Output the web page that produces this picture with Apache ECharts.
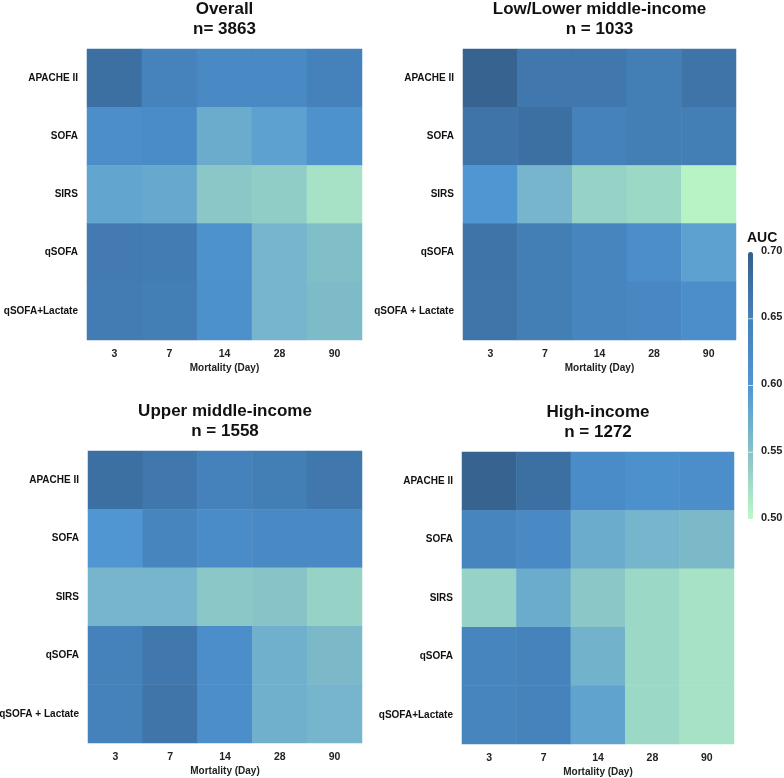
<!DOCTYPE html>
<html><head><meta charset="utf-8">
<script src="https://cdn.jsdelivr.net/npm/echarts@6/dist/echarts.min.js"></script>
<style>html,body{margin:0;padding:0;background:#fff}#c{width:784px;height:778px}</style>
</head><body><div id="c"></div>
<script>
const days = ['3', '7', '14', '28', '90'];
const scoresA = ['APACHE II', 'SOFA', 'SIRS', 'qSOFA', 'qSOFA+Lactate'];
const scoresB = ['APACHE II', 'SOFA', 'SIRS', 'qSOFA', 'qSOFA + Lactate'];
const titles = ['Overall\nn= 3863', 'Low/Lower middle-income\nn = 1033', 'Upper middle-income\nn = 1558', 'High-income\nn = 1272'];
// rows follow scores order, columns follow days
const overall = [
  [0.675, 0.645, 0.630, 0.630, 0.648],
  [0.620, 0.625, 0.575, 0.588, 0.612],
  [0.583, 0.578, 0.545, 0.540, 0.520],
  [0.660, 0.658, 0.612, 0.565, 0.555],
  [0.658, 0.655, 0.615, 0.565, 0.558]
];
const lowIncome = [
  [0.695, 0.665, 0.665, 0.655, 0.670],
  [0.670, 0.675, 0.650, 0.655, 0.655],
  [0.600, 0.565, 0.535, 0.530, 0.505],
  [0.670, 0.655, 0.640, 0.620, 0.588],
  [0.668, 0.655, 0.640, 0.635, 0.620]
];
const upperMiddle = [
  [0.675, 0.665, 0.650, 0.655, 0.665],
  [0.600, 0.640, 0.625, 0.630, 0.630],
  [0.565, 0.565, 0.545, 0.548, 0.535],
  [0.650, 0.665, 0.620, 0.570, 0.560],
  [0.650, 0.668, 0.620, 0.570, 0.565]
];
const highIncome = [
  [0.695, 0.675, 0.625, 0.615, 0.620],
  [0.640, 0.630, 0.575, 0.565, 0.560],
  [0.535, 0.575, 0.545, 0.530, 0.520],
  [0.640, 0.645, 0.568, 0.530, 0.520],
  [0.640, 0.645, 0.585, 0.530, 0.520]
];
const legendTicks = [0.70, 0.65, 0.60, 0.55, 0.50];

const panels = [overall, lowIncome, upperMiddle, highIncome];
const ylabels = [scoresA, scoresB, scoresB, scoresA];
const grids = [
  {left: 87, top: 49, width: 275, height: 291},
  {left: 463, top: 49, width: 273, height: 291},
  {left: 88, top: 451, width: 274, height: 292},
  {left: 462, top: 452, width: 272, height: 292}
];
const FONT = '"Liberation Sans", Arial, Helvetica, sans-serif';

function toData(m) {
  const out = [];
  m.forEach((row, r) => row.forEach((v, c) => out.push([c, r, v])));
  return out;
}

const vmTop = 252, vmH = 267, vmLeft = 748;
const option = {
  backgroundColor: '#fff',
  animation: false,
  textStyle: {fontFamily: FONT},
  title: grids.map((g, i) => ({
    text: titles[i],
    left: g.left + g.width / 2,
    textAlign: 'center',
    top: g.top - 50,
    padding: 0,
    textStyle: {fontFamily: FONT, fontSize: 17, fontWeight: 'bold', color: '#111', lineHeight: 20}
  })),
  grid: grids.map(g => Object.assign({outerBoundsMode: 'none', containLabel: false}, g)),
  xAxis: grids.map((g, i) => ({
    type: 'category', gridIndex: i, data: days,
    name: 'Mortality (Day)', nameLocation: 'middle', nameGap: 23,
    nameTextStyle: {fontFamily: FONT, fontSize: 10, fontWeight: 'bold', color: '#222'},
    axisLine: {show: false}, axisTick: {show: false}, splitLine: {show: false},
    axisLabel: {fontFamily: FONT, fontSize: 10.5, fontWeight: 'bold', color: '#222', margin: 9}
  })),
  yAxis: grids.map((g, i) => ({
    type: 'category', gridIndex: i, data: ylabels[i], inverse: true,
    axisLine: {show: false}, axisTick: {show: false}, splitLine: {show: false},
    axisLabel: {fontFamily: FONT, fontSize: 10, fontWeight: 'bold', color: '#111', margin: 9}
  })),
  visualMap: {
    type: 'continuous', min: 0.5, max: 0.7, show: true, calculable: false,
    seriesIndex: [0, 1, 2, 3],
    left: vmLeft, top: vmTop, itemWidth: 5, itemHeight: vmH, padding: 0,
    text: ['', ''], showLabel: false,
    inRange: {color: ['#bdf8c5', '#86c2c7', '#4f96d3', '#4581ba', '#34608b']}
  },
  graphic: [
    {type: 'text', left: vmLeft - 1, top: vmTop - 21,
     style: {text: 'AUC', font: 'bold 14px ' + FONT, fill: '#111'}}
  ].concat(legendTicks.map(v => ({
    type: 'text', left: vmLeft + 13, top: vmTop + (0.7 - v) / 0.2 * vmH - 7,
    style: {text: v.toFixed(2), font: 'bold 11px ' + FONT, fill: '#222'}
  }))).concat(legendTicks.slice(1, 4).map(v => ({
    type: 'line', z: 100,
    shape: {x1: vmLeft, y1: vmTop + (0.7 - v) / 0.2 * vmH, x2: vmLeft + 5, y2: vmTop + (0.7 - v) / 0.2 * vmH},
    style: {stroke: 'rgba(255,255,255,0.7)', lineWidth: 1}
  }))),
  series: panels.map((m, i) => ({
    type: 'heatmap', xAxisIndex: i, yAxisIndex: i, data: toData(m),
    itemStyle: {borderWidth: 0},
    emphasis: {disabled: true}
  }))
};
echarts.init(document.getElementById('c'), null, {renderer: 'canvas'}).setOption(option);
</script></body></html>
